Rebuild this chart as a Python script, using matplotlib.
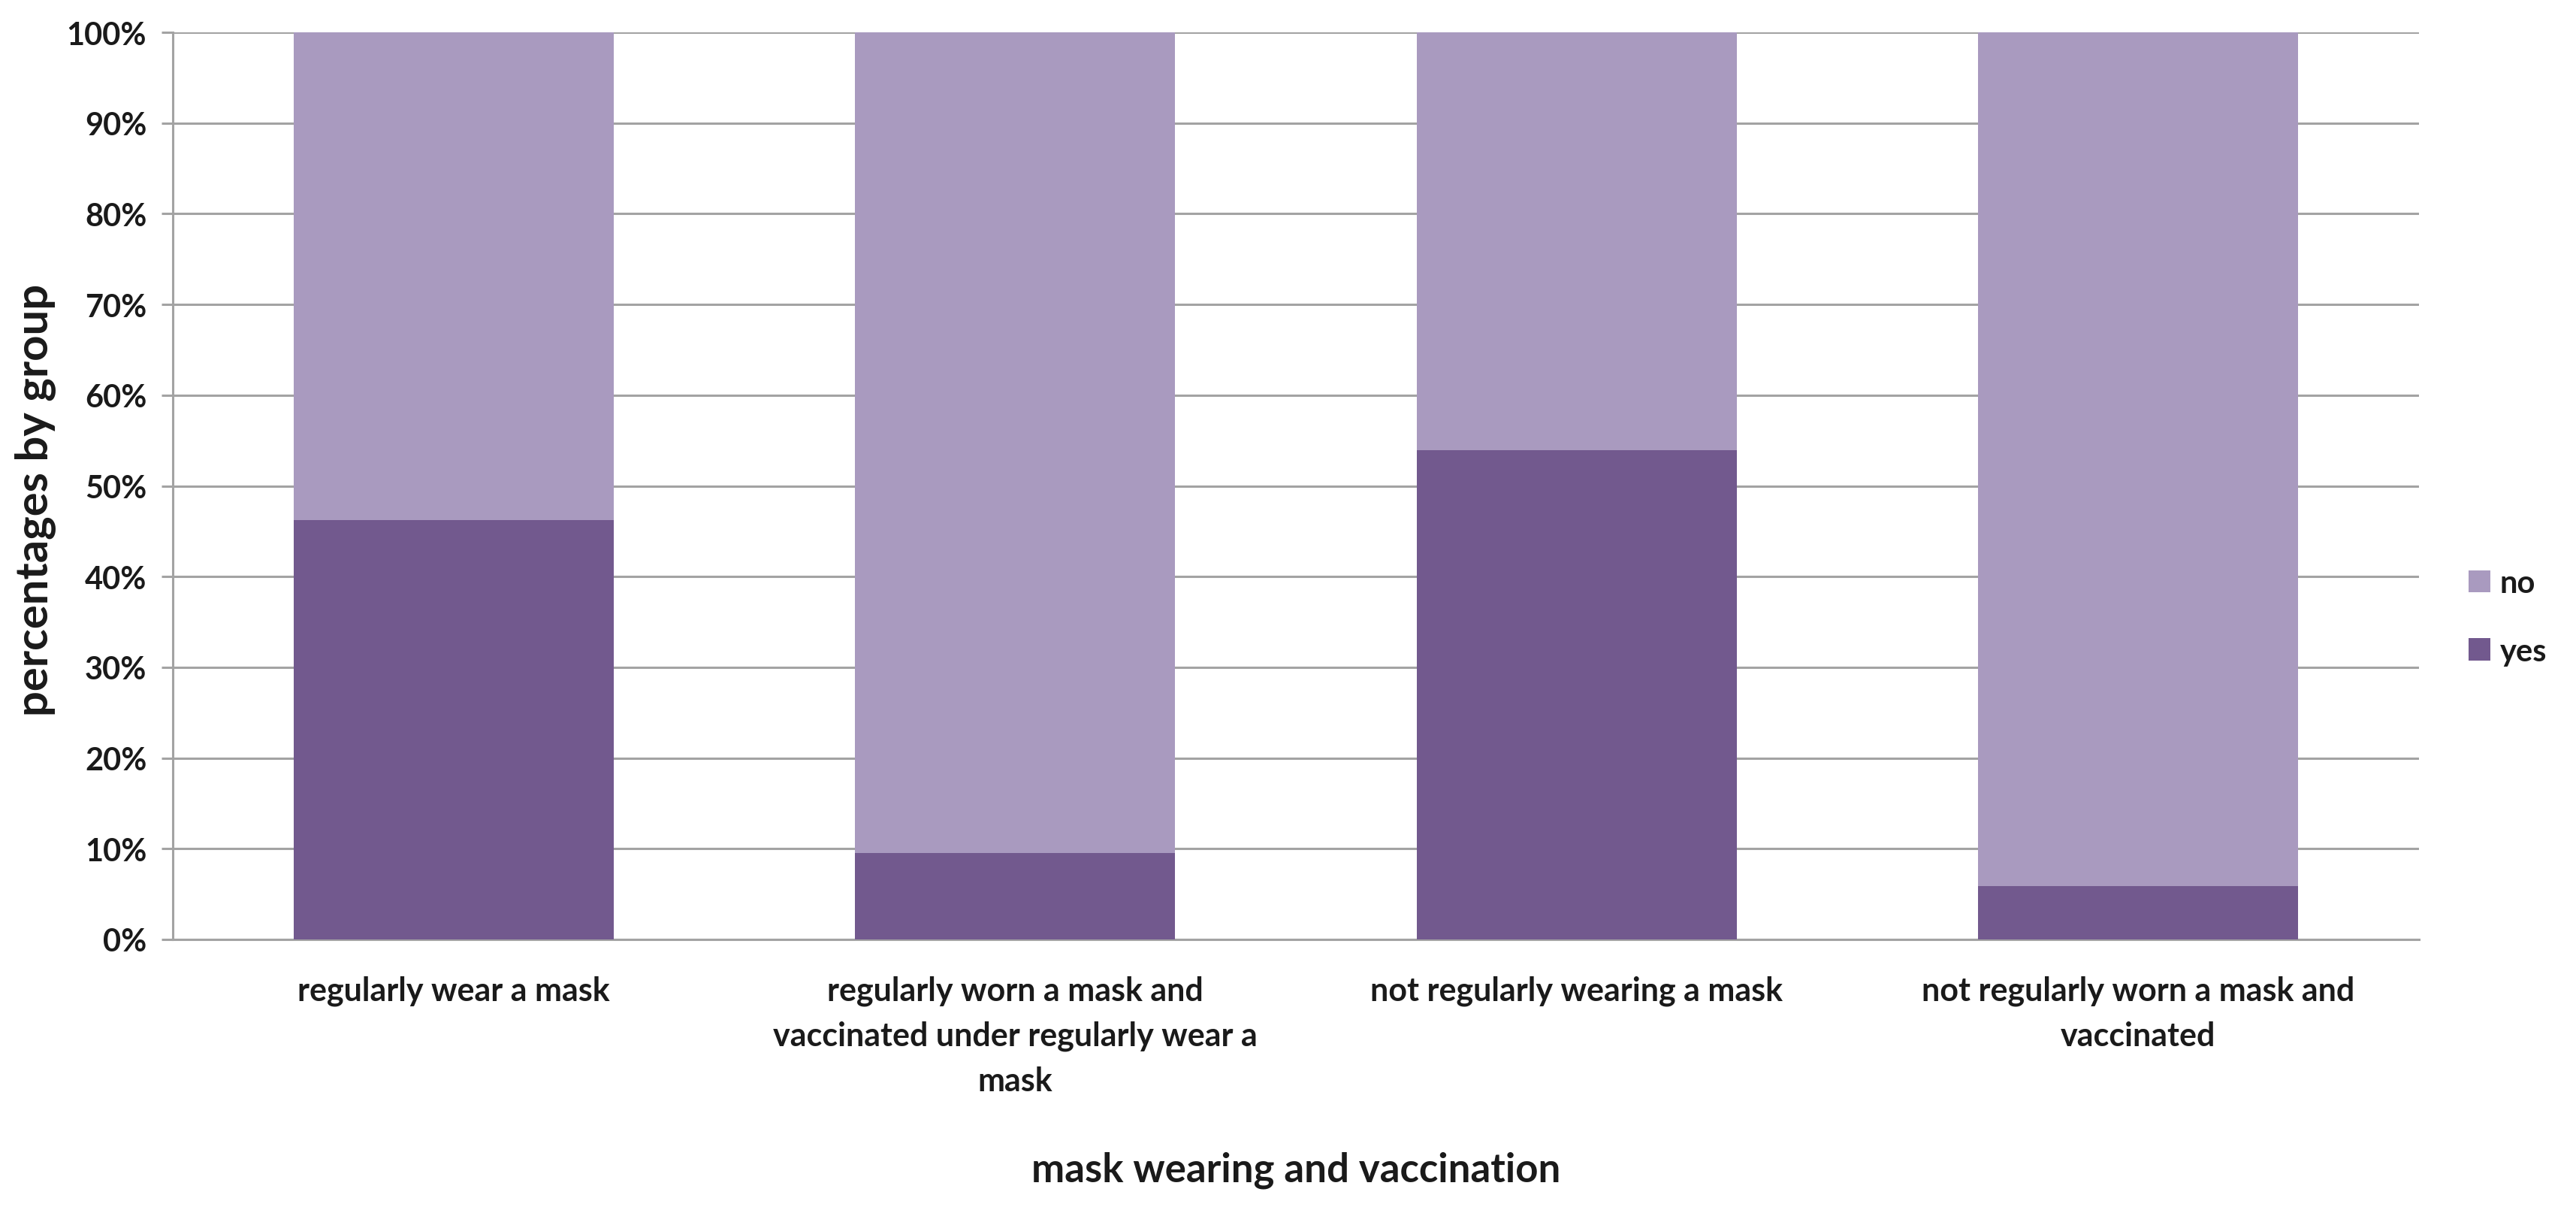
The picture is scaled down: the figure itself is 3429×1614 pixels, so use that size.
import matplotlib

matplotlib.use('Agg')
import matplotlib.pyplot as plt
from matplotlib.ticker import PercentFormatter

plt.rcParams['font.family'] = ['Lato', 'DejaVu Sans']
plt.rcParams['font.weight'] = 'bold'

# ── Data ──────────────────────────────────────────────────────────────────────
groups = [
    'regularly wear a mask',
    'regularly worn a mask and\nvaccinated under regularly wear a\nmask',
    'not regularly wearing a mask',
    'not regularly worn a mask and\nvaccinated',
]
yes_pct = [46.2, 9.5, 53.9, 5.9]
no_pct = [100 - v for v in yes_pct]

YES_C = '#72598E'
NO_C = '#A99ABF'
GRID_C = '#A3A3A3'
TXT_C = '#1A1A1A'

# ── Canvas ────────────────────────────────────────────────────────────────────
fig = plt.figure(figsize=(34.3, 16.15), dpi=100)
fig.patch.set_facecolor('white')
ax = fig.add_axes([230 / 3430, 1 - 1251 / 1615, 2990 / 3430, 1207 / 1615])

x = range(len(groups))
b_yes = ax.bar(x, yes_pct, width=0.57, color=YES_C, label='yes', zorder=3)
b_no = ax.bar(x, no_pct, width=0.57, bottom=yes_pct, color=NO_C, label='no', zorder=3)

ax.set_xlim(-0.5, len(groups) - 0.5)
ax.set_ylim(0, 100)
ax.set_yticks(range(0, 101, 10))
ax.yaxis.set_major_formatter(PercentFormatter(decimals=0))

ax.grid(axis='y', color=GRID_C, linewidth=2.2, zorder=0)
for s in ('top', 'right'):
    ax.spines[s].set_visible(False)
for s in ('left', 'bottom'):
    ax.spines[s].set_color(GRID_C)
    ax.spines[s].set_linewidth(2.2)

ax.tick_params(axis='y', length=11, width=2.2, color=GRID_C, pad=14,
               labelsize=30, labelcolor=TXT_C)
ax.tick_params(axis='x', length=0, pad=34, labelsize=31, labelcolor=TXT_C)
ax.set_xticks(list(x))
ax.set_xticklabels(groups, linespacing=1.6, ha='center', va='top')

# ── Axis titles ───────────────────────────────────────────────────────────────
ax.set_xlabel('mask wearing and vaccination', fontsize=38, color=TXT_C,
              fontweight='bold')
ax.xaxis.set_label_coords(0.5, -0.2535)
ax.xaxis.label.set_va('center')

ax.set_ylabel('percentages by group', fontsize=43, color=TXT_C,
              fontweight='bold')
ax.yaxis.set_label_coords(-0.061, 0.485)
ax.yaxis.label.set_va('center')

# ── Legend (no above yes) ─────────────────────────────────────────────────────
ax.legend([b_no, b_yes], ['no', 'yes'], loc='center left',
          bbox_to_anchor=(1.022, 0.355), frameon=False, fontsize=30,
          handlelength=0.7, handleheight=0.7, handletextpad=0.3,
          labelspacing=1.25, borderpad=0, borderaxespad=0,
          labelcolor=TXT_C)

plt.savefig('out.png', dpi=100, facecolor=fig.get_facecolor())
plt.close()
